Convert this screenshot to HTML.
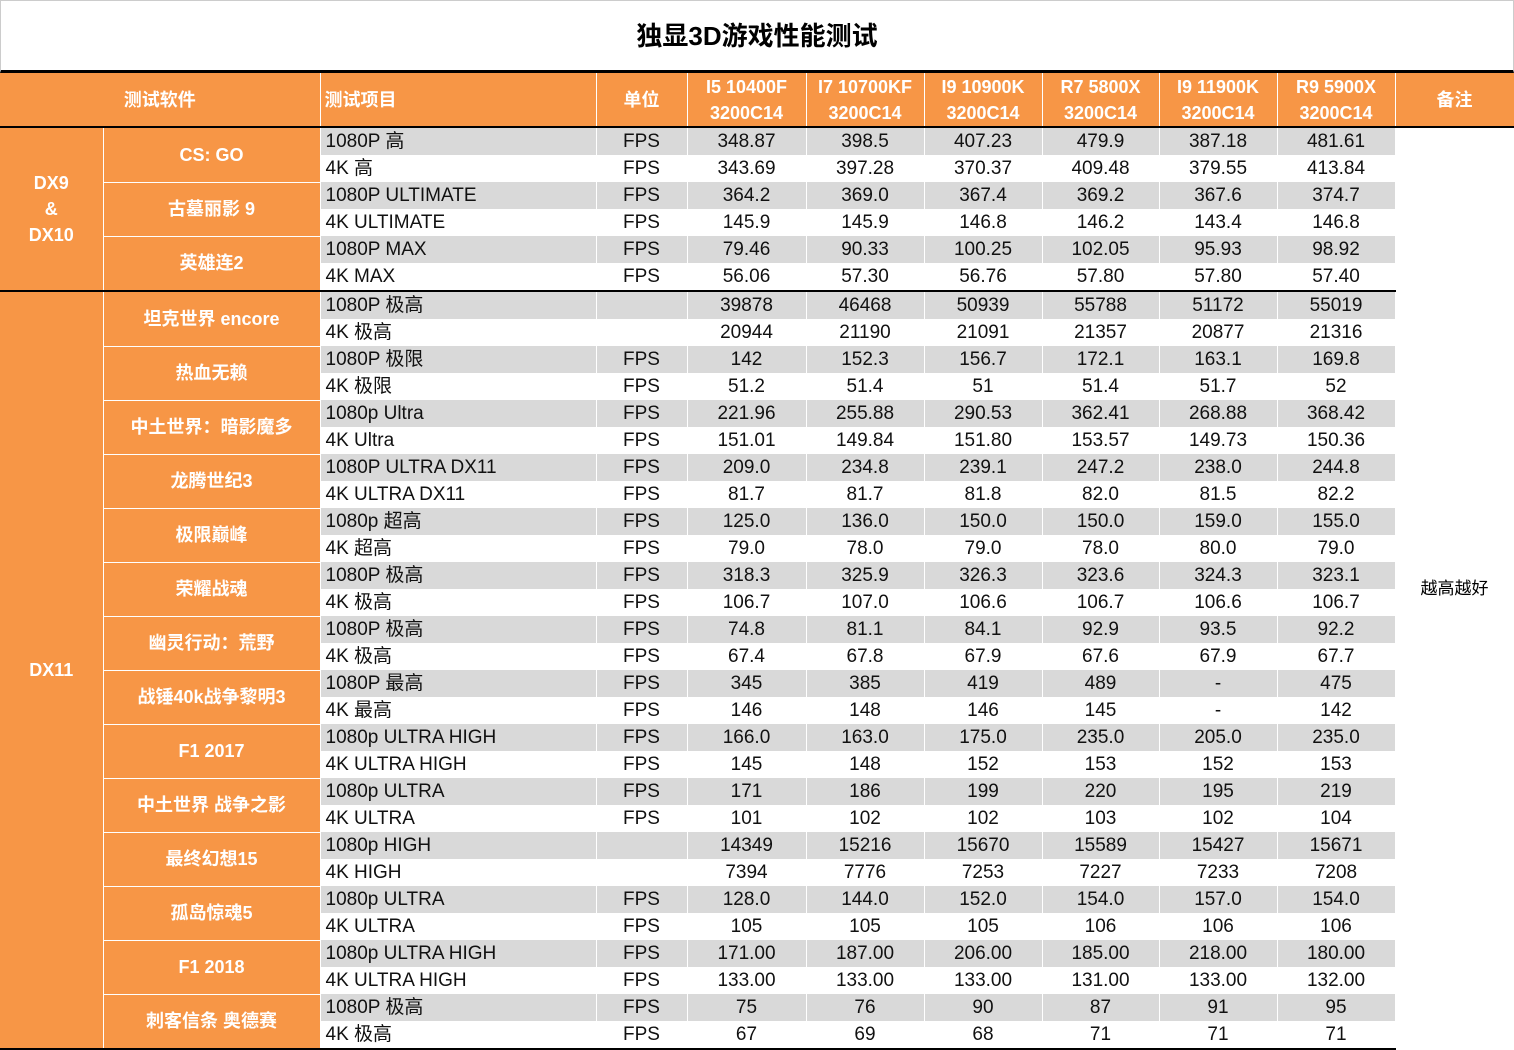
<!DOCTYPE html>
<html><head><meta charset="utf-8"><style>
body{margin:0;width:1514px;height:1049px;overflow:hidden;background:#fff;font-family:"Liberation Sans","Noto Sans CJK SC",sans-serif;}
.title{box-sizing:border-box;height:73px;line-height:70px;text-align:center;font-size:26px;font-weight:bold;color:#000;border-bottom:3px solid #000;border-top:1px solid #ccc;border-left:1px solid #ccc;border-right:1px solid #ccc;}
table{border-collapse:collapse;table-layout:fixed;width:1514px;}
td{padding:0;height:27px;line-height:26px;font-size:19px;text-align:center;border-right:1px solid #fff;white-space:nowrap;overflow:hidden;color:#111;}
tr.h td{height:53px;background:#F79646;color:#fff;font-weight:bold;font-size:18px;line-height:26px;border-bottom:2px solid #000;}
td.o{background:#F79646;color:#fff;font-weight:bold;font-size:18px;border-bottom:1px solid #fff;}
td.o.b{border-bottom:2px solid #000;}
tr.g td.d{background:#D9D9D9;}
td.l{text-align:left;padding-left:5px;}
tr.s td.d,tr.s td.o{border-top:2px solid #000;}
tr.e td.d{border-bottom:2px solid #000;}
td.n{background:#fff;font-size:17px;color:#000;font-weight:normal;}
</style></head><body>
<div class="title">独显3D游戏性能测试</div>
<table>
<colgroup><col style="width:103px"><col style="width:217px"><col style="width:276px"><col style="width:91px"><col style="width:119px"><col style="width:118px"><col style="width:118px"><col style="width:117px"><col style="width:118px"><col style="width:118px"><col style="width:119px"></colgroup>
<tr class="h"><td colspan="2">测试软件</td><td style="text-align:left;padding-left:4px">测试项目</td><td>单位</td><td>I5 10400F<br>3200C14</td><td>I7 10700KF<br>3200C14</td><td>I9 10900K<br>3200C14</td><td>R7 5800X<br>3200C14</td><td>I9 11900K<br>3200C14</td><td>R9 5900X<br>3200C14</td><td>备注</td></tr>
<tr class="g"><td class="o" rowspan="6">DX9<br>&amp;<br>DX10</td><td class="o" rowspan="2">CS: GO</td><td class="d l">1080P 高</td><td class="d">FPS</td><td class="d">348.87</td><td class="d">398.5</td><td class="d">407.23</td><td class="d">479.9</td><td class="d">387.18</td><td class="d">481.61</td><td class="n" rowspan="34">越高越好</td></tr>
<tr><td class="d l">4K 高</td><td class="d">FPS</td><td class="d">343.69</td><td class="d">397.28</td><td class="d">370.37</td><td class="d">409.48</td><td class="d">379.55</td><td class="d">413.84</td></tr>
<tr class="g"><td class="o" rowspan="2">古墓丽影 9</td><td class="d l">1080P ULTIMATE</td><td class="d">FPS</td><td class="d">364.2</td><td class="d">369.0</td><td class="d">367.4</td><td class="d">369.2</td><td class="d">367.6</td><td class="d">374.7</td></tr>
<tr><td class="d l">4K ULTIMATE</td><td class="d">FPS</td><td class="d">145.9</td><td class="d">145.9</td><td class="d">146.8</td><td class="d">146.2</td><td class="d">143.4</td><td class="d">146.8</td></tr>
<tr class="g"><td class="o" rowspan="2">英雄连2</td><td class="d l">1080P MAX</td><td class="d">FPS</td><td class="d">79.46</td><td class="d">90.33</td><td class="d">100.25</td><td class="d">102.05</td><td class="d">95.93</td><td class="d">98.92</td></tr>
<tr><td class="d l">4K MAX</td><td class="d">FPS</td><td class="d">56.06</td><td class="d">57.30</td><td class="d">56.76</td><td class="d">57.80</td><td class="d">57.80</td><td class="d">57.40</td></tr>
<tr class="g s"><td class="o b" rowspan="28">DX11</td><td class="o" rowspan="2">坦克世界 encore</td><td class="d l">1080P 极高</td><td class="d"></td><td class="d">39878</td><td class="d">46468</td><td class="d">50939</td><td class="d">55788</td><td class="d">51172</td><td class="d">55019</td></tr>
<tr><td class="d l">4K 极高</td><td class="d"></td><td class="d">20944</td><td class="d">21190</td><td class="d">21091</td><td class="d">21357</td><td class="d">20877</td><td class="d">21316</td></tr>
<tr class="g"><td class="o" rowspan="2">热血无赖</td><td class="d l">1080P 极限</td><td class="d">FPS</td><td class="d">142</td><td class="d">152.3</td><td class="d">156.7</td><td class="d">172.1</td><td class="d">163.1</td><td class="d">169.8</td></tr>
<tr><td class="d l">4K 极限</td><td class="d">FPS</td><td class="d">51.2</td><td class="d">51.4</td><td class="d">51</td><td class="d">51.4</td><td class="d">51.7</td><td class="d">52</td></tr>
<tr class="g"><td class="o" rowspan="2">中土世界：暗影魔多</td><td class="d l">1080p Ultra</td><td class="d">FPS</td><td class="d">221.96</td><td class="d">255.88</td><td class="d">290.53</td><td class="d">362.41</td><td class="d">268.88</td><td class="d">368.42</td></tr>
<tr><td class="d l">4K Ultra</td><td class="d">FPS</td><td class="d">151.01</td><td class="d">149.84</td><td class="d">151.80</td><td class="d">153.57</td><td class="d">149.73</td><td class="d">150.36</td></tr>
<tr class="g"><td class="o" rowspan="2">龙腾世纪3</td><td class="d l">1080P ULTRA DX11</td><td class="d">FPS</td><td class="d">209.0</td><td class="d">234.8</td><td class="d">239.1</td><td class="d">247.2</td><td class="d">238.0</td><td class="d">244.8</td></tr>
<tr><td class="d l">4K ULTRA DX11</td><td class="d">FPS</td><td class="d">81.7</td><td class="d">81.7</td><td class="d">81.8</td><td class="d">82.0</td><td class="d">81.5</td><td class="d">82.2</td></tr>
<tr class="g"><td class="o" rowspan="2">极限巅峰</td><td class="d l">1080p 超高</td><td class="d">FPS</td><td class="d">125.0</td><td class="d">136.0</td><td class="d">150.0</td><td class="d">150.0</td><td class="d">159.0</td><td class="d">155.0</td></tr>
<tr><td class="d l">4K 超高</td><td class="d">FPS</td><td class="d">79.0</td><td class="d">78.0</td><td class="d">79.0</td><td class="d">78.0</td><td class="d">80.0</td><td class="d">79.0</td></tr>
<tr class="g"><td class="o" rowspan="2">荣耀战魂</td><td class="d l">1080P 极高</td><td class="d">FPS</td><td class="d">318.3</td><td class="d">325.9</td><td class="d">326.3</td><td class="d">323.6</td><td class="d">324.3</td><td class="d">323.1</td></tr>
<tr><td class="d l">4K 极高</td><td class="d">FPS</td><td class="d">106.7</td><td class="d">107.0</td><td class="d">106.6</td><td class="d">106.7</td><td class="d">106.6</td><td class="d">106.7</td></tr>
<tr class="g"><td class="o" rowspan="2">幽灵行动：荒野</td><td class="d l">1080P 极高</td><td class="d">FPS</td><td class="d">74.8</td><td class="d">81.1</td><td class="d">84.1</td><td class="d">92.9</td><td class="d">93.5</td><td class="d">92.2</td></tr>
<tr><td class="d l">4K 极高</td><td class="d">FPS</td><td class="d">67.4</td><td class="d">67.8</td><td class="d">67.9</td><td class="d">67.6</td><td class="d">67.9</td><td class="d">67.7</td></tr>
<tr class="g"><td class="o" rowspan="2">战锤40k战争黎明3</td><td class="d l">1080P 最高</td><td class="d">FPS</td><td class="d">345</td><td class="d">385</td><td class="d">419</td><td class="d">489</td><td class="d">-</td><td class="d">475</td></tr>
<tr><td class="d l">4K 最高</td><td class="d">FPS</td><td class="d">146</td><td class="d">148</td><td class="d">146</td><td class="d">145</td><td class="d">-</td><td class="d">142</td></tr>
<tr class="g"><td class="o" rowspan="2">F1 2017</td><td class="d l">1080p ULTRA HIGH</td><td class="d">FPS</td><td class="d">166.0</td><td class="d">163.0</td><td class="d">175.0</td><td class="d">235.0</td><td class="d">205.0</td><td class="d">235.0</td></tr>
<tr><td class="d l">4K ULTRA HIGH</td><td class="d">FPS</td><td class="d">145</td><td class="d">148</td><td class="d">152</td><td class="d">153</td><td class="d">152</td><td class="d">153</td></tr>
<tr class="g"><td class="o" rowspan="2">中土世界 战争之影</td><td class="d l">1080p ULTRA</td><td class="d">FPS</td><td class="d">171</td><td class="d">186</td><td class="d">199</td><td class="d">220</td><td class="d">195</td><td class="d">219</td></tr>
<tr><td class="d l">4K ULTRA</td><td class="d">FPS</td><td class="d">101</td><td class="d">102</td><td class="d">102</td><td class="d">103</td><td class="d">102</td><td class="d">104</td></tr>
<tr class="g"><td class="o" rowspan="2">最终幻想15</td><td class="d l">1080p HIGH</td><td class="d"></td><td class="d">14349</td><td class="d">15216</td><td class="d">15670</td><td class="d">15589</td><td class="d">15427</td><td class="d">15671</td></tr>
<tr><td class="d l">4K HIGH</td><td class="d"></td><td class="d">7394</td><td class="d">7776</td><td class="d">7253</td><td class="d">7227</td><td class="d">7233</td><td class="d">7208</td></tr>
<tr class="g"><td class="o" rowspan="2">孤岛惊魂5</td><td class="d l">1080p ULTRA</td><td class="d">FPS</td><td class="d">128.0</td><td class="d">144.0</td><td class="d">152.0</td><td class="d">154.0</td><td class="d">157.0</td><td class="d">154.0</td></tr>
<tr><td class="d l">4K ULTRA</td><td class="d">FPS</td><td class="d">105</td><td class="d">105</td><td class="d">105</td><td class="d">106</td><td class="d">106</td><td class="d">106</td></tr>
<tr class="g"><td class="o" rowspan="2">F1 2018</td><td class="d l">1080p ULTRA HIGH</td><td class="d">FPS</td><td class="d">171.00</td><td class="d">187.00</td><td class="d">206.00</td><td class="d">185.00</td><td class="d">218.00</td><td class="d">180.00</td></tr>
<tr><td class="d l">4K ULTRA HIGH</td><td class="d">FPS</td><td class="d">133.00</td><td class="d">133.00</td><td class="d">133.00</td><td class="d">131.00</td><td class="d">133.00</td><td class="d">132.00</td></tr>
<tr class="g"><td class="o b" rowspan="2">刺客信条 奥德赛</td><td class="d l">1080P 极高</td><td class="d">FPS</td><td class="d">75</td><td class="d">76</td><td class="d">90</td><td class="d">87</td><td class="d">91</td><td class="d">95</td></tr>
<tr class="e"><td class="d l">4K 极高</td><td class="d">FPS</td><td class="d">67</td><td class="d">69</td><td class="d">68</td><td class="d">71</td><td class="d">71</td><td class="d">71</td></tr>
</table>
</body></html>
